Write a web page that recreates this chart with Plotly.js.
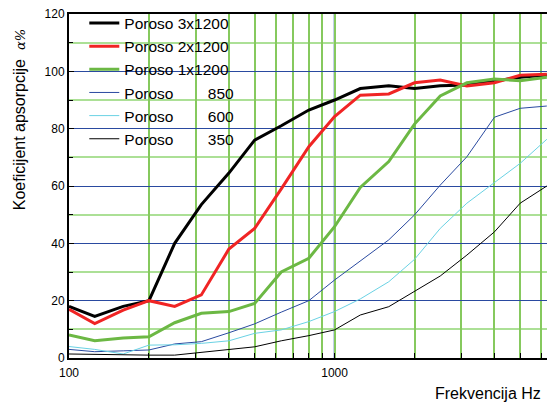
<!DOCTYPE html>
<html>
<head>
<meta charset="utf-8">
<script src="https://cdn.plot.ly/plotly-3.0.1.min.js"></script>
<style>html,body{margin:0;padding:0;background:#fff;}</style>
</head>
<body>
<div id="chart" style="width:547px;height:402px;"></div>
<script>
const freq = [100,125,160,200,250,315,400,500,630,800,1000,1250,1600,2000,2500,3150,4000,5000,6300];
const poroso3x1200 = [18,14.5,18,20,40,53.5,64.5,76,81,86.5,90,94,95,94,95,95.2,96.6,97.9,98.7];
const poroso2x1200 = [17,12,16.7,20,18,22,38,45.2,59,73.7,84.2,91.7,92.1,96,97,94.9,96,98.6,99];
const poroso1x1200 = [8,6,7,7.4,12.3,15.6,16.2,19,30,34.8,45.8,59.5,68.5,81.6,91.4,96,97.3,96.7,97.9];
const poroso850 = [3,2.2,2.5,2.8,4.9,5.7,8.8,11.9,16,20,27.2,34,41.2,49.9,60.3,70.2,84,87.1,87.9];
const poroso600 = [4,3,1.4,4.5,4.6,5.1,6,8.6,9.8,12.7,16.2,20.6,26.6,34.4,45.2,54,61.2,67.9,76.3];
const poroso350 = [1.4,1.2,1,1,1,1.9,2.8,3.9,6,7.8,9.8,15,17.9,23.1,28.6,35.9,44,54,60];
const names = ['Poroso 3x1200','Poroso 2x1200','Poroso 1x1200',
  'Poroso\u00A0\u00A0\u00A0\u00A0\u00A0\u00A0\u00A0\u00A0850',
  'Poroso\u00A0\u00A0\u00A0\u00A0\u00A0\u00A0\u00A0\u00A0600',
  'Poroso\u00A0\u00A0\u00A0\u00A0\u00A0\u00A0\u00A0\u00A0350'];
const xTickVals = [100,200,300,400,500,600,700,800,900,1000,2000,3000,4000,5000,6000];
const xTickText = ['100','','','','','','','','','1000','','','','',''];
const xMajorGrid = 1000;

const series = [poroso3x1200,poroso2x1200,poroso1x1200,poroso850,poroso600,poroso350];
const colors = ['#000000','#f02424','#6cb844','#2a4aa0','#6ad2e4','#000000'];
const widths = [3,3,3,1,1,1];

const traces = series.map((s,i)=>({
  x: freq, y: s, name: names[i], type:'scatter', mode:'lines',
  line:{color:colors[i], width:widths[i]}
}));

const font = 'Liberation Sans, Arial, sans-serif';
const layout = {
  width:547, height:402,
  margin:{l:69,r:0,t:14,b:44},
  paper_bgcolor:'#fff', plot_bgcolor:'#fff',
  font:{family:font, size:12, color:'#000'},
  showlegend:true,
  legend:{x:0.032,y:1.022,xanchor:'left',yanchor:'top',bgcolor:'rgba(0,0,0,0)',
    font:{family:font,size:15.5,color:'#000'},tracegroupgap:0},
  xaxis:{type:'log', range:[2,3.8], tickmode:'array', tickvals:xTickVals, ticktext:xTickText,
    showgrid:true, gridcolor:'#86c95e', gridwidth:2,
    ticks:'inside', ticklen:5, tickwidth:1, tickcolor:'#000',
    showline:true, linecolor:'#000', linewidth:2, mirror:true,
    zeroline:false, tickfont:{size:12}, ticklabelstandoff:3, layer:'below traces'},
  yaxis:{range:[0,120], dtick:20, tick0:0,
    showgrid:true, gridcolor:'#2a4aa0', gridwidth:1,
    ticks:'inside', ticklen:5, tickcolor:'#000', tickwidth:1,
    showline:true, linecolor:'#000', linewidth:2, mirror:true,
    zeroline:false, tickfont:{size:12},
    minor:{dtick:10, showgrid:true, gridcolor:'#ace096', gridwidth:2,
      ticks:'inside', ticklen:4, tickcolor:'#000', tickwidth:1}},
  shapes:[
    {type:'line', xref:'x', yref:'paper', x0:xMajorGrid, x1:xMajorGrid, y0:0, y1:1,
     line:{color:'#7b93d2', width:2}, layer:'below'}
  ],
  annotations:[
    {text:'Koeficijent apsorpcije \u00A0<i><span style="font-family:DejaVu Serif;font-size:13px">α%</span></i>',
     xref:'paper', yref:'paper', x:-0.102, y:0.692, textangle:-90, showarrow:false,
     xanchor:'center', yanchor:'middle', font:{family:font,size:16,color:'#000'}},
    {text:'Frekvencija Hz', xref:'paper', yref:'paper', x:0.9916, y:-0.102,
     xanchor:'right', yanchor:'middle', showarrow:false, font:{family:font,size:16,color:'#000'}}
  ]
};
Plotly.newPlot('chart', traces, layout, {displayModeBar:false, staticPlot:true});
</script>
</body>
</html>
